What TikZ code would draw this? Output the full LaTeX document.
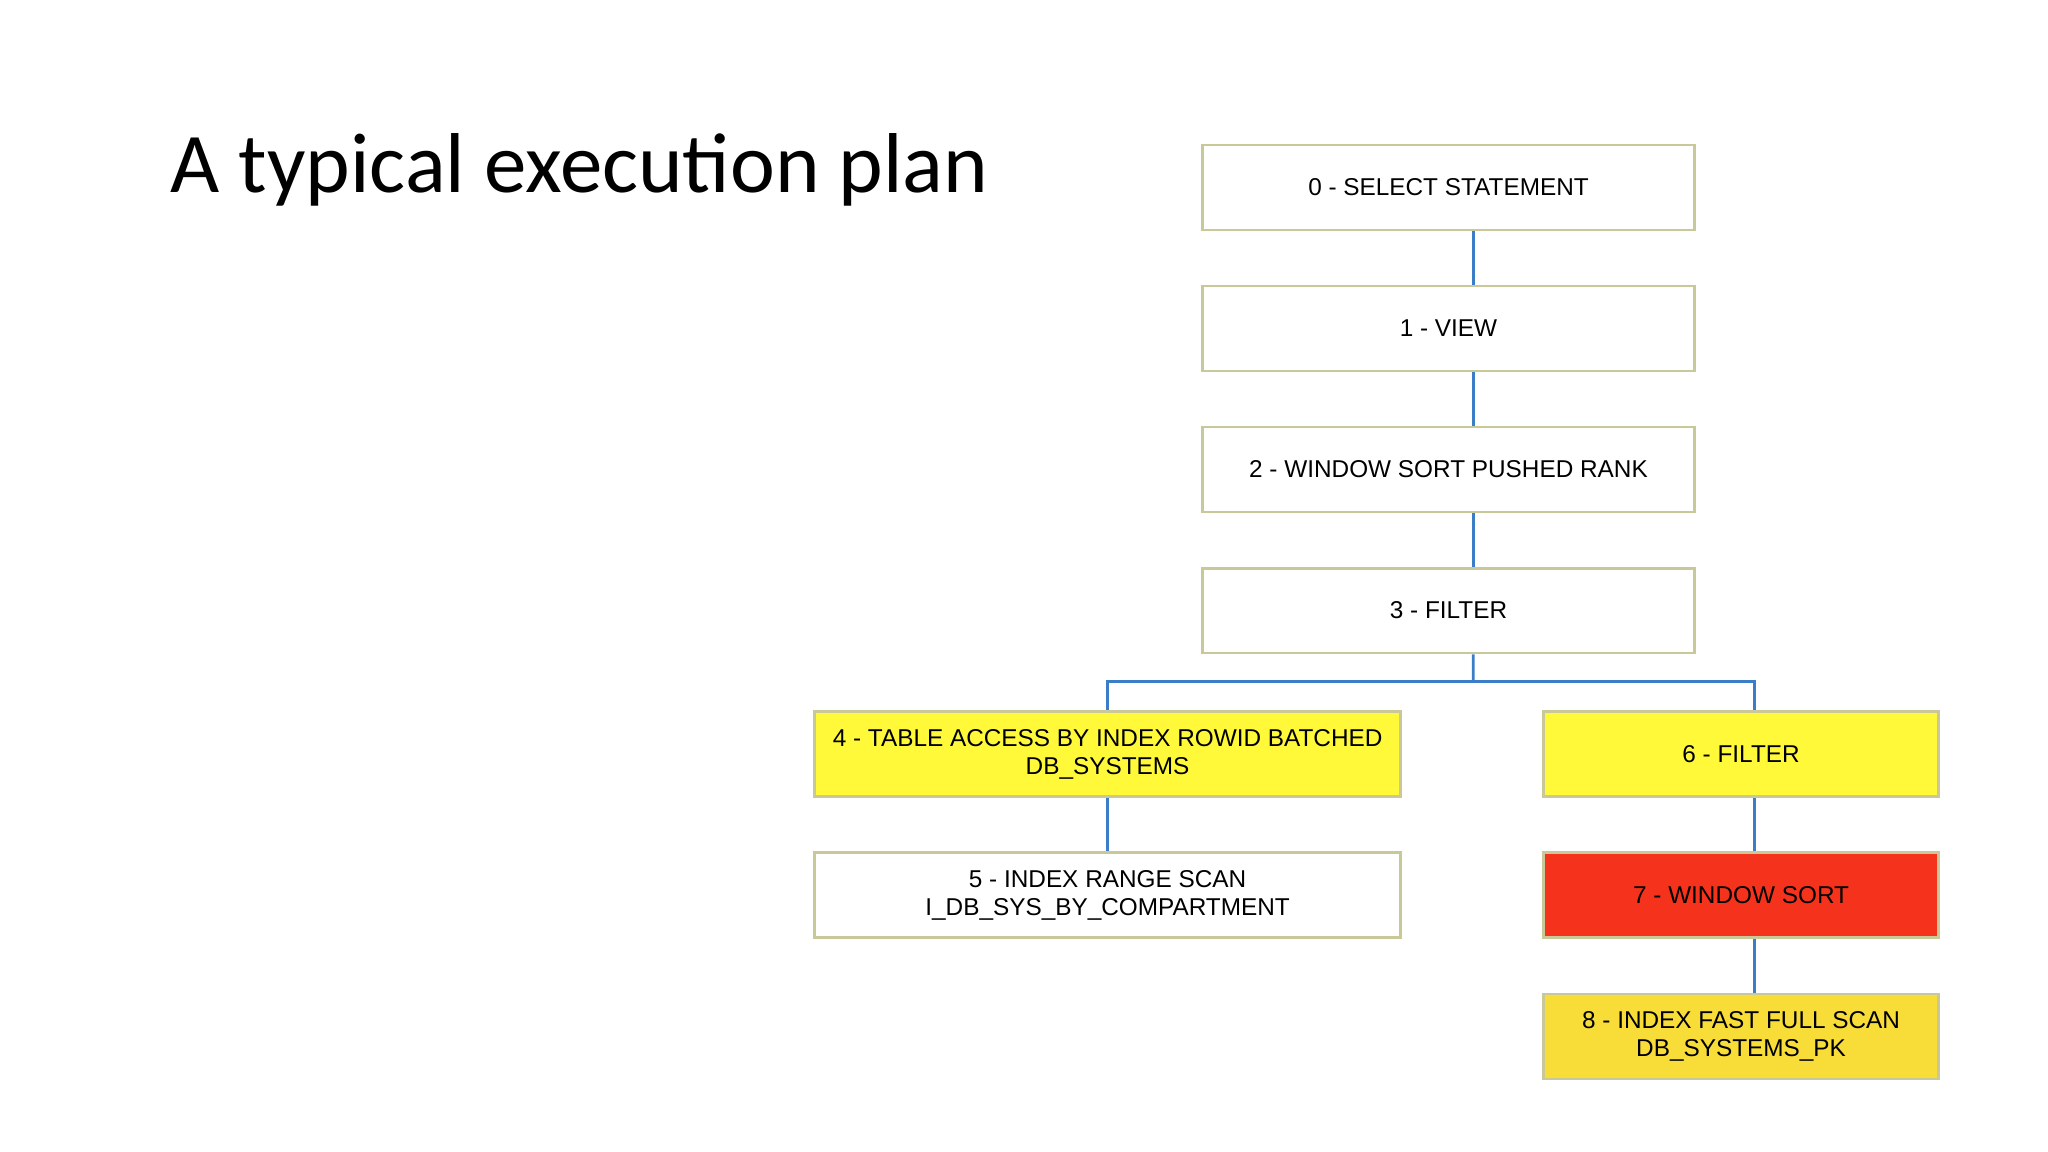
\documentclass[tikz,border=0pt]{standalone}
\usepackage{fontspec}
\setmainfont{Liberation Sans}
\newfontfamily\titlefont{Carlito}
\definecolor{bord}{HTML}{C8C898}
\definecolor{conn}{HTML}{3C7DC8}
\definecolor{yel}{HTML}{FFF93A}
\definecolor{yel2}{HTML}{F8DC38}
\definecolor{redc}{HTML}{F5331C}
\tikzset{
 planbox/.style={draw=bord, line width=0.6pt, minimum height=0.65cm, inner sep=1pt, align=center, font=\fontsize{5.3}{6.2}\selectfont},
 wide/.style={planbox, minimum width=3.76cm},
 wider/.style={planbox, minimum width=4.48cm},
 side/.style={planbox, minimum width=3.02cm},
 link/.style={draw=conn, line width=0.6pt}
}
\begin{document}
\begin{tikzpicture}[x=0.01cm,y=-0.01cm]
\useasboundingbox[fill=white] (0,0) rectangle (1568,882);
\node[anchor=west, font=\titlefont\fontsize{18.5}{20}\selectfont] (title) at (118,130) {A typical execution plan};
\node[wide] (n0) at (1109,143.5) {0 - SELECT STATEMENT};
\node[wide] (n1) at (1109,251.5) {1 - VIEW};
\node[wide] (n2) at (1109,359.5) {2 - WINDOW SORT PUSHED RANK};
\node[wide] (n3) at (1109,467.5) {3 - FILTER};
\node[wider, fill=yel] (n4) at (848,577.5) {4 - TABLE ACCESS BY INDEX ROWID BATCHED\\DB\_SYSTEMS};
\node[wider] (n5) at (848,685.5) {5 - INDEX RANGE SCAN\\I\_DB\_SYS\_BY\_COMPARTMENT};
\node[side, fill=yel] (n6) at (1333,577.5) {6 - FILTER};
\node[side, fill=redc] (n7) at (1333,685.5) {7 - WINDOW SORT};
\node[side, fill=yel2] (n8) at (1333,793.5) {8 - INDEX FAST FULL SCAN\\DB\_SYSTEMS\_PK};
\coordinate (j) at (1128,522);
\coordinate (r) at (1343,522);
\path[link] ([xshift=5.4pt]n0.south) -- ([xshift=5.4pt]n1.north);
\path[link] ([xshift=5.4pt]n1.south) -- ([xshift=5.4pt]n2.north);
\path[link] ([xshift=5.4pt]n2.south) -- ([xshift=5.4pt]n3.north);
\path[link] ([xshift=5.4pt]n3.south) -- (j);
\path[link] (j) -| (n4.north);
\path[link] (j) -- (r) -- (r |- n6.north);
\path[link] (n4.south) -- (n5.north);
\path[link] ([xshift=3pt]n6.south) -- ([xshift=3pt]n7.north);
\path[link] ([xshift=3pt]n7.south) -- ([xshift=3pt]n8.north);
\end{tikzpicture}
\end{document}
